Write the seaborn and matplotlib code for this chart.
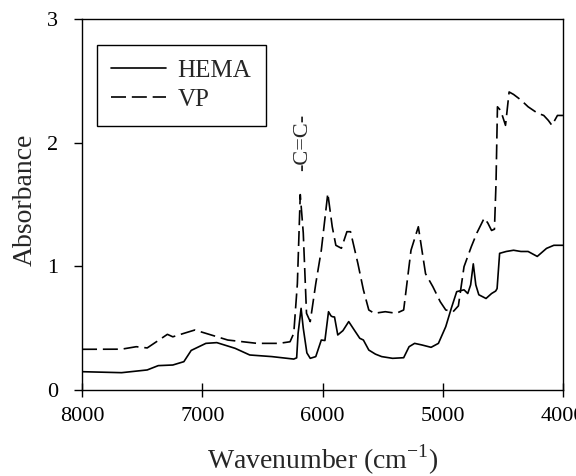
import numpy as np
import pandas as pd
import matplotlib
matplotlib.use("Agg")
import matplotlib.pyplot as plt
import seaborn as sns

hema_wn = [8000, 7671, 7458, 7366, 7245, 7153, 7092, 6970, 6879, 6727, 6605, 6422, 6239, 6215,
           6203, 6178, 6160, 6130, 6102, 6056, 6010, 5980, 5950, 5930, 5919, 5900, 5873, 5830,
           5782, 5736, 5690, 5660, 5615, 5560, 5508, 5417, 5325, 5280, 5234, 5173, 5097, 5036,
           4975, 4929, 4884, 4823, 4792, 4768, 4746, 4725, 4700, 4640, 4594, 4560, 4548, 4527,
           4472, 4411, 4350, 4290, 4214, 4137, 4076, 4000]
hema_abs = [0.148, 0.14, 0.162, 0.197, 0.202, 0.229, 0.32, 0.377, 0.383, 0.337, 0.283, 0.27, 0.25, 0.26,
            0.458, 0.66, 0.50, 0.30, 0.256, 0.27, 0.404, 0.40, 0.633, 0.60, 0.593, 0.59, 0.445, 0.48,
            0.553, 0.485, 0.418, 0.404, 0.323, 0.29, 0.27, 0.256, 0.261, 0.35, 0.377, 0.364, 0.345, 0.377,
            0.512, 0.66, 0.795, 0.81, 0.78, 0.85, 1.02, 0.85, 0.77, 0.74, 0.78, 0.80, 0.82, 1.105,
            1.12, 1.13, 1.12, 1.12, 1.08, 1.145, 1.17, 1.17]

vp_wn = [8000, 7671, 7549, 7458, 7366, 7290, 7245, 7153, 7062, 6970, 6788, 6544, 6361, 6270, 6239,
         6209, 6185, 6160, 6133, 6102, 6056, 6010, 5956, 5919, 5889, 5843, 5797, 5767, 5706, 5660,
         5615, 5569, 5478, 5386, 5325, 5264, 5203, 5143, 5082, 5021, 4975, 4914, 4870, 4823, 4762,
         4716, 4655, 4625, 4594, 4570, 4557, 4545, 4518, 4478, 4448, 4411, 4350, 4290, 4214, 4160,
         4122, 4092, 4046, 4000]
vp_abs = [0.329, 0.33, 0.35, 0.34, 0.40, 0.45, 0.43, 0.458, 0.485, 0.458, 0.404, 0.377, 0.377, 0.39, 0.458,
          0.86, 1.58, 1.27, 0.62, 0.553, 0.86, 1.13, 1.59, 1.32, 1.17, 1.146, 1.28, 1.28, 1.024, 0.81,
          0.647, 0.62, 0.633, 0.62, 0.647, 1.13, 1.32, 0.94, 0.835, 0.714, 0.647, 0.633, 0.68, 0.997, 1.16,
          1.27, 1.39, 1.35, 1.29, 1.30, 1.67, 2.29, 2.26, 2.14, 2.41, 2.39, 2.345, 2.29, 2.24, 2.22,
          2.18, 2.14, 2.22, 2.22]

series_names = ["HEMA", "VP"]
x_ticks = [8000, 7000, 6000, 5000, 4000]
y_ticks = [0, 1, 2, 3]
annotation = "-C=C-"
annotation_wn = 6168
annotation_abs = 2.0

df = pd.concat([
    pd.DataFrame({"Wavenumber": hema_wn, "Absorbance": hema_abs, "Sample": series_names[0]}),
    pd.DataFrame({"Wavenumber": vp_wn, "Absorbance": vp_abs, "Sample": series_names[1]}),
])

sns.set_style("ticks")
plt.rcParams["font.family"] = ["Liberation Serif", "DejaVu Serif"]
plt.rcParams["mathtext.fontset"] = "custom"
plt.rcParams["mathtext.rm"] = "Liberation Serif"

fig = plt.figure(figsize=(5.76, 4.76), dpi=100)
ax = fig.add_axes([0.1424, 0.1807, 0.835, 0.7794])

sns.lineplot(data=df, x="Wavenumber", y="Absorbance", hue="Sample", style="Sample",
             palette={"HEMA": "black", "VP": "black"},
             dashes={"HEMA": "", "VP": (9, 3.5)}, sort=False, estimator=None,
             linewidth=1.2, ax=ax)

ax.set_xlim(8000, 4000)
ax.set_ylim(0, 3)
ax.set_xticks(x_ticks)
ax.set_xticklabels([str(t) for t in x_ticks])
ax.set_yticks(y_ticks)
ax.set_yticklabels([str(t) for t in y_ticks])
for s in ax.spines.values():
    s.set_visible(True)
    s.set_color("black")
    s.set_linewidth(1.0)
ax.tick_params(axis="x", direction="inout", length=10, width=1, labelsize=16, colors="black", pad=7)
ax.tick_params(axis="y", direction="out", length=6, width=1, labelsize=16, colors="black", pad=11)
ax.set_xlabel("Wavenumber (cm$^{\\mathregular{-1}}$)", fontsize=20)
ax.set_ylabel("Absorbance", fontsize=20)
ax.xaxis.set_label_coords(0.5, -0.142)
ax.yaxis.set_label_coords(-0.092, 0.512)

ax.text(annotation_wn, annotation_abs, annotation, rotation=90, fontsize=16,
        ha="center", va="center")

leg = ax.legend(loc="upper left", bbox_to_anchor=(0.031, 0.930), borderaxespad=0,
                fontsize=18, frameon=True, fancybox=False, edgecolor="black",
                handlelength=2.2, handletextpad=0.45, borderpad=0.58,
                labelspacing=0.27, title=None)
leg.get_frame().set_linewidth(1.0)
leg.get_frame().set_alpha(1)
for line in leg.get_lines():
    line.set_linewidth(1.2)

fig.savefig("out.png", dpi=100)
